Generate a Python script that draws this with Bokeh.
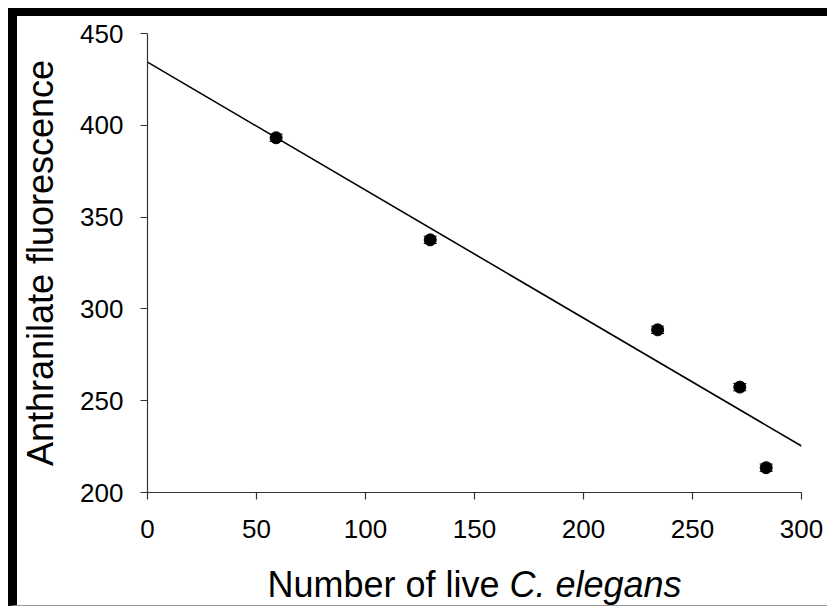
import numpy as np
from bokeh.plotting import figure
from bokeh.layouts import column
from bokeh.models import Range1d, ColumnDataSource, Whisker, FixedTicker
from bokeh.core.properties import value
from bokeh.embed import file_html
from bokeh.resources import INLINE

# ---- data ----
worms = [59.0, 129.7, 234.0, 271.7, 283.8]
fluorescence = [393.2, 337.6, 288.6, 257.4, 213.5]
fluor_err = [2.0, 2.0, 2.0, 2.0, 2.0]
x_ticks = [0, 50, 100, 150, 200, 250, 300]
y_ticks = [200, 250, 300, 350, 400, 450]
x_title_plain = "Number of live"
x_title_italic = "C. elegans"
y_title = "Anthranilate fluorescence"

FONT = "Liberation Sans"
W = 810
LEFT, RIGHT = 128, 26

p = figure(width=W, height=536, output_backend="svg", toolbar_location=None,
           x_range=Range1d(0, 300), y_range=Range1d(200, 450),
           min_border_left=LEFT, min_border_right=RIGHT, min_border_top=17,
           min_border_bottom=60)
p.outline_line_color = None
p.grid.visible = False
p.background_fill_color = "white"
p.border_fill_color = "white"

for ax in (p.xaxis[0], p.yaxis[0]):
    ax.axis_line_color = "#333333"
    ax.axis_line_width = 1.2
    ax.major_tick_line_color = "#333333"
    ax.major_tick_line_width = 1.2
    ax.major_tick_out = 7
    ax.major_tick_in = 0
    ax.minor_tick_line_color = None
    ax.major_label_text_font = FONT
    ax.major_label_text_font_size = "26px"
    ax.major_label_text_color = "black"

p.xaxis.ticker = FixedTicker(ticks=x_ticks)
p.yaxis.ticker = FixedTicker(ticks=y_ticks)
p.xaxis.major_label_standoff = 20
p.yaxis.major_label_standoff = 17

p.yaxis.axis_label = y_title
p.yaxis.axis_label_text_font = FONT
p.yaxis.axis_label_text_font_size = "36px"
p.yaxis.axis_label_text_font_style = "normal"
p.yaxis.axis_label_text_color = "black"
p.yaxis.axis_label_standoff = 16

# trendline (least-squares fit of the data)
slope, intercept = np.polyfit(worms, fluorescence, 1)
fx = [p.x_range.start, p.x_range.end]
fy = [slope * v + intercept for v in fx]
p.line(fx, fy, line_color="black", line_width=1.6)

src = ColumnDataSource(dict(
    x=worms, y=fluorescence,
    lo=[a - e for a, e in zip(fluorescence, fluor_err)],
    hi=[a + e for a, e in zip(fluorescence, fluor_err)],
))
w = Whisker(source=src, base="x", lower="lo", upper="hi",
            line_color="black", line_width=1)
w.upper_head.size = 13
w.lower_head.size = 13
w.upper_head.line_color = "black"
w.lower_head.line_color = "black"
p.add_layout(w)
p.scatter("x", "y", source=src, size=12, color="black")

# strip below the chart holding the x-axis title (italic species name)
p2 = figure(width=W, height=53, output_backend="svg", toolbar_location=None,
            x_range=p.x_range, y_range=Range1d(0, 53),
            x_axis_type=None, y_axis_type=None,
            min_border_left=LEFT, min_border_right=RIGHT, min_border_top=0,
            min_border_bottom=0)
p2.outline_line_color = None
p2.grid.visible = False
p2.border_fill_color = "white"
mid = (p.x_range.start + p.x_range.end) / 2
p2.text(x=[mid], y=[21], text=[x_title_plain], x_offset=25,
        text_align="right", text_baseline="alphabetic",
        text_font=value(FONT), text_font_size="36px", text_color="black")
p2.text(x=[mid], y=[21], text=[x_title_italic], x_offset=35,
        text_align="left", text_baseline="alphabetic",
        text_font=value(FONT), text_font_size="36px",
        text_font_style="italic", text_color="black")

layout = column(p, p2, spacing=0)
layout.styles = {"margin-left": "8px", "margin-top": "8px",
                 "border-top": "8px solid black", "border-left": "9px solid black",
                 "border-bottom": "1px solid #9a9a9a"}

open("out.html", "w").write(file_html(layout, INLINE))
